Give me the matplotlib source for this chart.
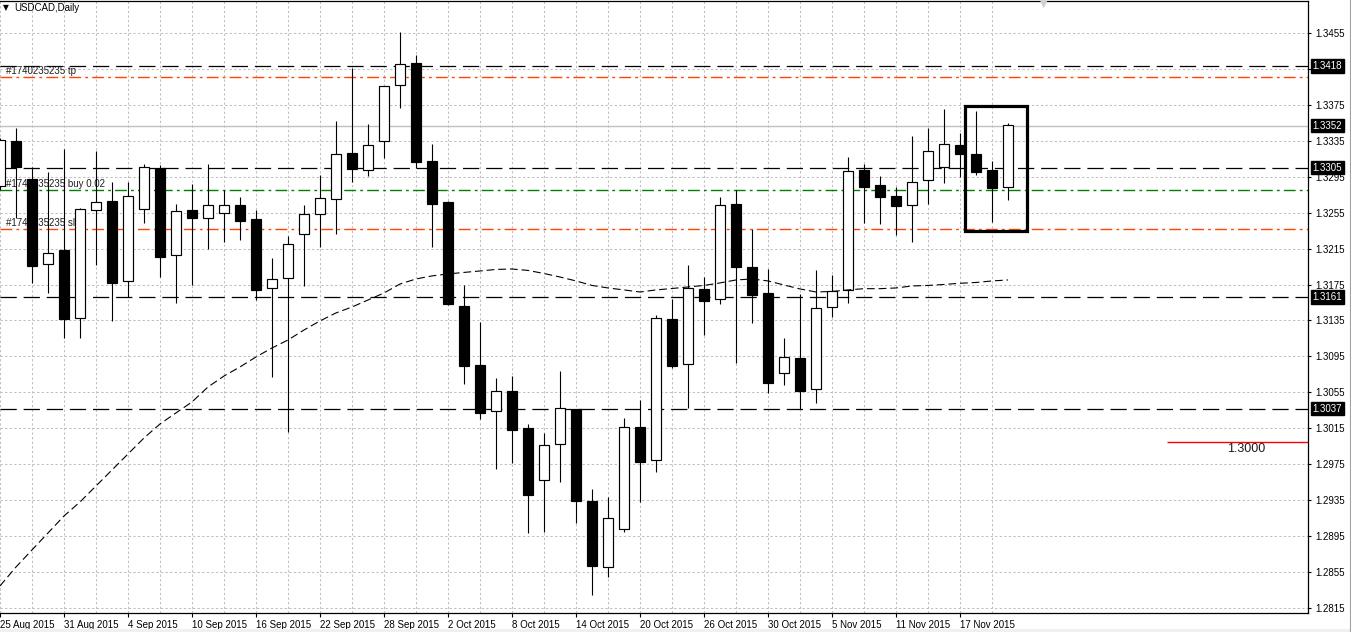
import numpy as np
import pandas as pd
import matplotlib
matplotlib.use("Agg")
import matplotlib.pyplot as plt
from matplotlib.patches import Rectangle

plt.rcParams['font.family'] = ['Liberation Sans', 'DejaVu Sans']

# daily USDCAD bars, 25 Aug 2015 .. 20 Nov 2015 (trading days only)
dates = pd.bdate_range("2015-08-25", "2015-11-20")

opens = [1.32842, 1.33348, 1.32922, 1.31976, 1.32135, 1.31375, 1.32577, 1.32680,
         1.31787, 1.32588, 1.33051, 1.32076, 1.32580, 1.32488, 1.32543, 1.32632,
         1.32480, 1.31709, 1.31820, 1.32310, 1.32532, 1.32699, 1.33211, 1.33022,
         1.33345, 1.33968, 1.34213, 1.33126, 1.32669, 1.31512, 1.30855, 1.30339,
         1.30565, 1.30154, 1.29571, 1.29972, 1.30365, 1.29341, 1.28610, 1.29033,
         1.30161, 1.29794, 1.31364, 1.30863, 1.31701, 1.31586, 1.32647, 1.31946,
         1.31656, 1.30762, 1.30929, 1.30584, 1.31497, 1.31686, 1.33025, 1.32858,
         1.32736, 1.32632, 1.32911, 1.33059, 1.33304, 1.33200, 1.33025, 1.32833]
highs = [1.33382, 1.33490, 1.33055, 1.33000, 1.33256, 1.32597, 1.33240, 1.32892,
         1.32892, 1.33092, 1.33081, 1.32647, 1.32866, 1.33089, 1.32799, 1.32725,
         1.32577, 1.32046, 1.32291, 1.32636, 1.32970, 1.33571, 1.34164, 1.33537,
         1.33960, 1.34565, 1.34305, 1.33315, 1.32675, 1.31745, 1.31330, 1.30710,
         1.30729, 1.30198, 1.30101, 1.30788, 1.30370, 1.29475, 1.29386, 1.30262,
         1.30465, 1.31411, 1.31590, 1.31968, 1.31838, 1.32725, 1.32803, 1.32365,
         1.31923, 1.31152, 1.31645, 1.31912, 1.31853, 1.33170, 1.33092, 1.32959,
         1.32836, 1.33404, 1.33496, 1.33704, 1.33434, 1.33682, 1.33126, 1.33549]
lows = [1.32803, 1.32494, 1.31771, 1.31653, 1.31152, 1.31159, 1.31968, 1.31348,
        1.31615, 1.32432, 1.31838, 1.31542, 1.31742, 1.32143, 1.32227, 1.32250,
        1.31578, 1.30725, 1.30106, 1.31738, 1.32172, 1.32316, 1.32895, 1.32962,
        1.33162, 1.33712, 1.33051, 1.32172, 1.31523, 1.30640, 1.30250, 1.29701,
        1.29761, 1.28988, 1.28999, 1.29553, 1.29100, 1.28298, 1.28498, 1.28999,
        1.29333, 1.29667, 1.30825, 1.30373, 1.31189, 1.31534, 1.30880, 1.31319,
        1.30546, 1.30635, 1.30362, 1.30435, 1.31393, 1.31548, 1.32435, 1.32424,
        1.32305, 1.32227, 1.32647, 1.32884, 1.32951, 1.32966, 1.32446, 1.32691]
closes = [1.33359, 1.33055, 1.31960, 1.32098, 1.31370, 1.32588, 1.32666, 1.31771,
          1.32733, 1.33055, 1.32060, 1.32566, 1.32494, 1.32632, 1.32632, 1.32461,
          1.31693, 1.31809, 1.32198, 1.32532, 1.32710, 1.33200, 1.33033, 1.33300,
          1.33957, 1.34202, 1.33118, 1.32652, 1.31530, 1.30847, 1.30324, 1.30562,
          1.30135, 1.29411, 1.29961, 1.30373, 1.29344, 1.28621, 1.29149, 1.30168,
          1.29779, 1.31375, 1.30847, 1.31712, 1.31571, 1.32636, 1.31949, 1.31637,
          1.30649, 1.30940, 1.30569, 1.31486, 1.31675, 1.33011, 1.32840, 1.32728,
          1.32628, 1.32888, 1.33234, 1.33311, 1.33207, 1.33006, 1.32828, 1.33523]
# moving average
ma = [1.28395, 1.28606, 1.28796, 1.28985, 1.29174, 1.29330, 1.29508, 1.29686,
      1.29864, 1.30042, 1.30198, 1.30321, 1.30443, 1.30610, 1.30732, 1.30833,
      1.30944, 1.31044, 1.31133, 1.31244, 1.31345, 1.31434, 1.31500, 1.31578,
      1.31656, 1.31756, 1.31812, 1.31846, 1.31868, 1.31885, 1.31901, 1.31918,
      1.31923, 1.31907, 1.31873, 1.31834, 1.31790, 1.31740, 1.31712, 1.31690,
      1.31667, 1.31690, 1.31706, 1.31723, 1.31740, 1.31768, 1.31801, 1.31812,
      1.31790, 1.31745, 1.31701, 1.31667, 1.31673, 1.31690, 1.31704, 1.31704,
      1.31712, 1.31734, 1.31740, 1.31751, 1.31764, 1.31773, 1.31790, 1.31801]

y_ticks = [1.2815, 1.2855, 1.2895, 1.2935, 1.2975, 1.3015, 1.3055, 1.3095, 1.3135,
           1.3175, 1.3215, 1.3255, 1.3295, 1.3335, 1.3375, 1.3415, 1.3455]
hidden_tick = 1.3415          # covered by the 1.3418 price box

levels = [1.3418, 1.3305, 1.3161, 1.3037]   # black dashed horizontal lines
bid = 1.3352
tp_price, buy_price, sl_price = 1.3406, 1.3280, 1.3237
order_id = "#1740235235"
target = 1.3000
box_bars = (60.33, 64.2)
box_prices = (1.3235, 1.33738)

x = np.arange(len(dates))
opens, highs, lows, closes = map(np.array, (opens, highs, lows, closes))

fig = plt.figure(figsize=(13.51, 6.32), dpi=100)
ax = fig.add_axes([0, 19 / 632, 1308 / 1351, 612 / 632])
ax.set_xlim(0, 81.75)
ax.set_ylim(1.28094, 1.34906)

# grid
for xv in x[::2]:
    ax.axvline(xv, color='#c0c0c0', lw=0.75, dashes=(2.2, 2.2), zorder=0)
for yv in y_ticks:
    ax.axhline(yv, color='#c0c0c0', lw=0.75, dashes=(2.2, 2.2), zorder=0)

# levels and order lines
ax.axhline(bid, color='#c0c0c0', lw=1.0, zorder=1)
for lv in levels:
    ax.axhline(lv, color='black', lw=0.9, dashes=(13, 5.5), zorder=1)
ax.axhline(tp_price, color='#ff4500', lw=1.0, dashes=(8.5, 3, 2, 3), zorder=1)
ax.axhline(sl_price, color='#ff4500', lw=1.0, dashes=(8.5, 3, 2, 3), zorder=1)
ax.axhline(buy_price, color='#008000', lw=1.0, dashes=(8.5, 3, 2, 3), zorder=1)

for price, txt in [(tp_price, order_id + " tp"),
                   (buy_price, order_id + " buy 0.02"),
                   (sl_price, order_id + " sl")]:
    ax.annotate(txt, xy=(0, price), xycoords=('axes fraction', 'data'),
                xytext=(4.5, 4.3), textcoords='offset points', fontsize=7,
                color='#202020', ha='left', va='center', zorder=2)

# candles
up = closes >= opens
ax.vlines(x, lows, highs, color='black', lw=0.8, zorder=3)
ax.bar(x, np.abs(closes - opens), bottom=np.minimum(opens, closes), width=0.66,
       color=np.where(up, 'white', 'black'), edgecolor='black', lw=0.85, zorder=4)

# moving average
ax.plot(x, ma, color='black', lw=0.8, dashes=(7, 3.5), zorder=5)

# highlight box
ax.add_patch(Rectangle((box_bars[0], box_prices[0]), box_bars[1] - box_bars[0],
                       box_prices[1] - box_prices[0], fill=False, ec='black',
                       lw=2.3, zorder=6))

# target line
ax.hlines(target, 72.94, 81.75, color='red', lw=1.0, zorder=6)
ax.annotate(f"{target:.4f}", xy=(77.9, target), xytext=(0, -5.5),
            textcoords='offset points', ha='center', va='center', fontsize=9,
            color='#1a1a1a', zorder=6)

# axes styling
ax.spines['left'].set_visible(False)
for side in ['top', 'right', 'bottom']:
    ax.spines[side].set_linewidth(0.9)
ax.yaxis.tick_right()
ax.set_yticks(y_ticks)
ax.set_yticklabels(['' if abs(v - hidden_tick) < 1e-9 else f"{v:.4f}" for v in y_ticks])
ax.tick_params(axis='y', direction='out', length=2.5, width=0.8, pad=2.5,
               labelsize=7, colors='black')
ax.set_xticks(x[::4])
ax.set_xticklabels([f"{d.day} {d:%b %Y}" for d in dates[::4]])
ax.tick_params(axis='x', direction='out', length=3, width=0.8, pad=2,
               labelsize=7, colors='black')
for lbl in ax.get_xticklabels():
    lbl.set_ha('left')

# price boxes on the scale
for lv in levels + [bid]:
    ax.annotate(f"{lv:.4f}", xy=(1, lv), xycoords=('axes fraction', 'data'),
                xytext=(3.2, 0), textcoords='offset points', ha='left',
                va='center', fontsize=7, color='white', zorder=7,
                annotation_clip=False,
                bbox=dict(boxstyle='square,pad=0.18', fc='black', ec='black'))

# window decorations
fig.text(3 / 1351, 1 - 8 / 632, '\u25bc', fontsize=5.5, va='center',
         family='DejaVu Sans')
fig.text(14 / 1351, 1 - 8 / 632, 'USDCAD,Daily', fontsize=7, va='center')
fig.text(1044 / 1351, 1 - 4 / 632, '\u25bc', fontsize=7, va='center', ha='center',
         color='#cfcfcf', family='DejaVu Sans')
fig.patches.append(Rectangle((0, 0), 1, 3 / 632, transform=fig.transFigure,
                             fc='#f0f0f0', ec='none'))
fig.lines.append(plt.Line2D([1349.5 / 1351] * 2, [0, 1], transform=fig.transFigure,
                            color='#a0a0a0', lw=0.8))

fig.savefig("out.png", dpi=100)
